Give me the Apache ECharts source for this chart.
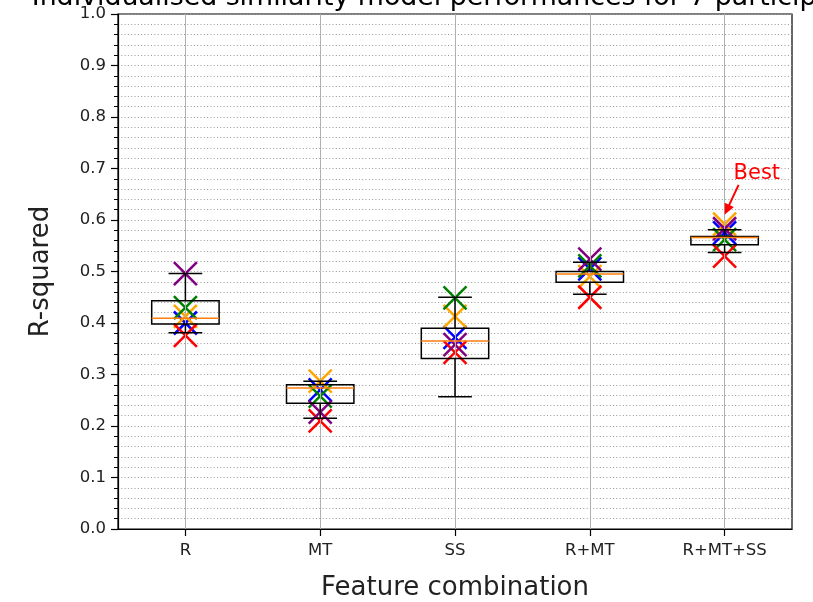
<!DOCTYPE html>
<html><head><meta charset="utf-8">
<script src="https://cdn.jsdelivr.net/npm/echarts@6/dist/echarts.min.js"></script>
<style>html,body{margin:0;padding:0;background:#fff}#c{width:813px;height:602px}</style>
</head><body><div id="c"></div>
<script>
// ---- data ----
const categories = ['R', 'MT', 'SS', 'R+MT', 'R+MT+SS'];
const boxMin    = [0.381, 0.215, 0.257, 0.456, 0.537];
const boxQ1     = [0.398, 0.244, 0.331, 0.479, 0.552];
const boxMedian = [0.409, 0.274, 0.365, 0.495, 0.566];
const boxQ3     = [0.443, 0.280, 0.390, 0.500, 0.568];
const boxMax    = [0.496, 0.287, 0.450, 0.518, 0.581];
const blueVals   = [0.400, 0.270, 0.372, 0.505, 0.575];
const orangeVals = [0.413, 0.287, 0.413, 0.490, 0.592];
const greenVals  = [0.430, 0.258, 0.449, 0.511, 0.562];
const redVals    = [0.376, 0.210, 0.343, 0.450, 0.530];
const purpleVals = [0.496, 0.227, 0.358, 0.524, 0.583];
const yMin = 0, yMax = 1, yInterval = 0.1;
const titleText = 'Individualised similarity model performances for 7 participants';
const bestLabel = 'Best';
const bestCategory = 'R+MT+SS';
const bestArrowValue = 0.610;

// ---- chart ----
const FONT = '"DejaVu Sans", "Liberation Sans", sans-serif';
const chart = echarts.init(document.getElementById('c'), null, {renderer: 'canvas'});

function renderBox(params, api) {
  const i = api.value(0);
  const pMin = api.coord([i, api.value(1)]);
  const pQ1 = api.coord([i, api.value(2)]);
  const pMed = api.coord([i, api.value(3)]);
  const pQ3 = api.coord([i, api.value(4)]);
  const pMax = api.coord([i, api.value(5)]);
  const band = api.size([1, 0])[0];
  const bw = band * 0.5, cw = band * 0.25;
  const x = pMin[0];
  const black = {stroke: '#000', lineWidth: 1.5, fill: null};
  return {type: 'group', children: [
    {type: 'line', shape: {x1: x, y1: pMax[1], x2: x, y2: pQ3[1]}, style: black},
    {type: 'line', shape: {x1: x, y1: pQ1[1], x2: x, y2: pMin[1]}, style: black},
    {type: 'line', shape: {x1: x - cw / 2, y1: pMax[1], x2: x + cw / 2, y2: pMax[1]}, style: black},
    {type: 'line', shape: {x1: x - cw / 2, y1: pMin[1], x2: x + cw / 2, y2: pMin[1]}, style: black},
    {type: 'rect', shape: {x: x - bw / 2, y: pQ3[1], width: bw, height: pQ1[1] - pQ3[1]}, style: {fill: 'none', stroke: '#000', lineWidth: 1.5}},
    {type: 'line', shape: {x1: x - bw / 2, y1: pMed[1], x2: x + bw / 2, y2: pMed[1]}, style: {stroke: '#ff7f0e', lineWidth: 1.5}}
  ]};
}

function makeMarkerRender(color) {
  return function (params, api) {
    const p = api.coord([api.value(0), api.value(1)]);
    const h = 11.5;
    const st = {stroke: color, lineWidth: 2.5, fill: null};
    return {type: 'group', children: [
      {type: 'line', shape: {x1: p[0] - h, y1: p[1] - h, x2: p[0] + h, y2: p[1] + h}, style: st},
      {type: 'line', shape: {x1: p[0] - h, y1: p[1] + h, x2: p[0] + h, y2: p[1] - h}, style: st}
    ]};
  };
}

function renderArrow(params, api) {
  const tip = api.coord([api.value(0), api.value(1)]);
  const s = [tip[0] + 14, tip[1] - 30];
  const dx = tip[0] - s[0], dy = tip[1] - s[1];
  const L = Math.sqrt(dx * dx + dy * dy);
  const ux = dx / L, uy = dy / L;
  const px = -uy, py = ux;
  const hl = 11, hw = 5;
  const base = [tip[0] - ux * hl, tip[1] - uy * hl];
  return {type: 'group', children: [
    {type: 'line', shape: {x1: s[0], y1: s[1], x2: base[0] + ux * 2, y2: base[1] + uy * 2}, style: {stroke: '#ff0000', lineWidth: 2}},
    {type: 'polygon', shape: {points: [tip, [base[0] + px * hw, base[1] + py * hw], [base[0] - px * hw, base[1] - py * hw]]}, style: {fill: '#ff0000'}},
    {type: 'text', x: tip[0] + 9, y: tip[1] - 41, style: {text: bestLabel, font: '21px ' + FONT, fill: '#ff0000', textAlign: 'left', textVerticalAlign: 'middle'}}
  ]};
}

const markerSets = [
  {name: 'blue', color: '#0000ff', vals: blueVals},
  {name: 'orange', color: '#ffa500', vals: orangeVals},
  {name: 'green', color: '#008000', vals: greenVals},
  {name: 'red', color: '#ff0000', vals: redVals},
  {name: 'purple', color: '#800080', vals: purpleVals}
];

const series = [];
series.push({
  type: 'scatter', data: [], silent: true, z: 1,
  markLine: {silent: true, symbol: 'none', animation: false,
    label: {show: false},
    lineStyle: {color: '#b0b0b0', type: 'solid', width: 1},
    data: categories.map(c => ({xAxis: c}))}
});
markerSets.forEach(m => {
  series.push({
    type: 'custom', name: m.name, z: 3,
    renderItem: makeMarkerRender(m.color),
    data: m.vals.map((v, i) => [i, v]),
    encode: {x: 0, y: 1}
  });
});
series.push({
  type: 'custom', name: 'box', z: 5,
  renderItem: renderBox,
  data: categories.map((c, i) => [i, boxMin[i], boxQ1[i], boxMedian[i], boxQ3[i], boxMax[i]]),
  encode: {x: 0, y: [1, 2, 3, 4, 5]}
});
series.push({
  type: 'custom', name: 'best', z: 6,
  renderItem: renderArrow,
  data: [[categories.indexOf(bestCategory), bestArrowValue]],
  encode: {x: 0, y: 1}
});

chart.setOption({
  animation: false,
  backgroundColor: '#fff',
  textStyle: {fontFamily: FONT},
  grid: {left: 118, right: 21, top: 14, bottom: 73, containLabel: false, outerBoundsMode: 'none',
    show: true, borderColor: '#000', borderWidth: 1.2, backgroundColor: 'transparent'},
  graphic: [{
    type: 'text', x: 453, y: 12, z: 10,
    style: {text: titleText, font: '26.8px ' + FONT, fill: '#000', textAlign: 'center', textVerticalAlign: 'bottom'}
  }],
  xAxis: {
    type: 'category', data: categories, boundaryGap: true,
    name: 'Feature combination', nameLocation: 'middle', nameGap: 46,
    nameTextStyle: {fontSize: 26, color: '#222', fontFamily: FONT},
    axisLine: {show: true, lineStyle: {color: '#000', width: 1.2}},
    axisTick: {show: true, alignWithLabel: true, length: 7, lineStyle: {color: '#000', width: 1.2}},
    axisLabel: {fontSize: 16.5, color: '#222', margin: 13, fontFamily: FONT},
    splitLine: {show: false}
  },
  yAxis: {
    type: 'value', min: yMin, max: yMax, interval: yInterval,
    name: 'R-squared', nameLocation: 'middle', nameGap: 64,
    nameTextStyle: {fontSize: 26, color: '#222', fontFamily: FONT},
    axisLine: {show: true, lineStyle: {color: '#000', width: 1.2}},
    axisTick: {show: true, length: 7, lineStyle: {color: '#000', width: 1.2}},
    minorTick: {show: true, splitNumber: 5, length: 4, lineStyle: {color: '#000', width: 1}},
    axisLabel: {fontSize: 16.5, color: '#222', margin: 12, fontFamily: FONT, formatter: v => v.toFixed(1)},
    splitLine: {show: true, lineStyle: {color: '#999', type: [1, 2.3], width: 1}},
    minorSplitLine: {show: true, lineStyle: {color: '#999', type: [1, 2.3], width: 1}}
  },
  series: series
});
</script>
</body></html>
